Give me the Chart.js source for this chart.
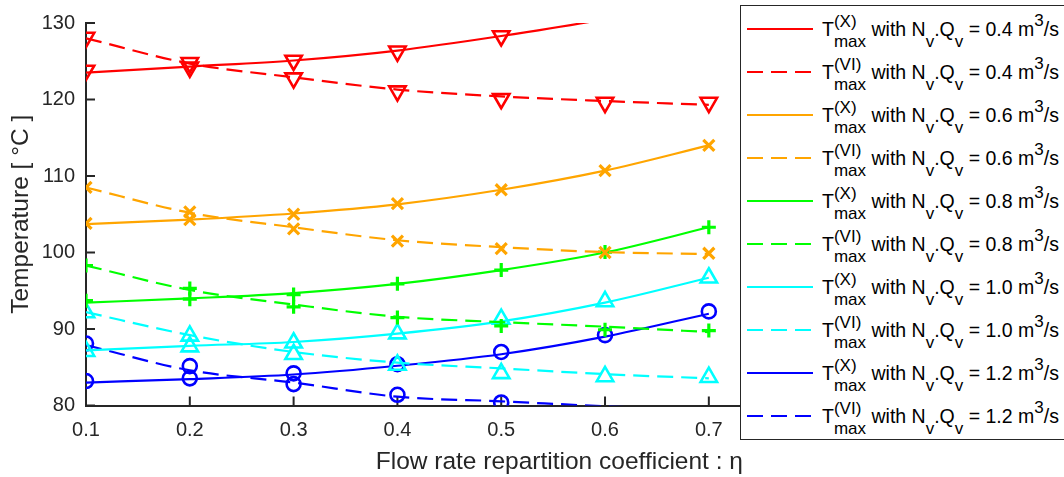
<!DOCTYPE html>
<html>
<head>
<meta charset="utf-8">
<script src="https://cdn.jsdelivr.net/npm/chart.js@4.4.1/dist/chart.umd.min.js"></script>
<style>
  html, body { margin: 0; padding: 0; background: #fff; overflow: hidden; }
  #wrap { position: relative; width: 1064px; height: 477px; overflow: hidden; }
  #legendBox {
    position: absolute; left: 740px; top: 5px; width: 400px; height: 433px;
    border: 1px solid #262626; background: #fff;
    font-family: 'Liberation Sans', Arial, Helvetica, sans-serif; color: #000;
  }
  .row { position: absolute; left: 81px; font-size: 19.5px; line-height: 22px; white-space: nowrap; }
  .stack { display: inline-grid; }
  .stack > span { grid-area: 1 / 1; justify-self: start; font-size: 17px; line-height: 16px; position: relative; }
  .stack .up { top: -9px; }
  .stack .dn { top: 11px; }
  .sb { font-size: 17px; position: relative; top: 11px; }
  .sp { font-size: 17px; position: relative; top: -10px; }
  .swatch { position: absolute; left: 6px; }
</style>
</head>
<body>
<div id="wrap">
  <canvas id="tempChart" width="1064" height="477"></canvas>
  <div id="legendBox"></div>
</div>
<script>
// x positions (flow rate repartition coefficient)
const eta = [0.1, 0.2, 0.3, 0.4, 0.5, 0.6, 0.7];
const flowRates = ['0.4', '0.6', '0.8', '1.0', '1.2'];
const seriesColors = ['#FF0000', '#FFA500', '#00FF00', '#00FFFF', '#0000FF'];

// fitted curves (lines) and computed points (markers)
const fitX04 = [123.5, 124.3, 125.1, 126.4, 128.3, 130.5, 133.2];
const ptsX04 = [123.8, 124.2, 125.1, 126.3, 128.3, null, null];
const fitVI04 = [128.0, 124.7, 122.9, 121.3, 120.4, 119.8, 119.3];
const ptsVI04 = [128.1, 124.8, 122.8, 121.1, 120.1, 119.6, 119.6];

const fitX06 = [103.7, 104.3, 105.1, 106.3, 108.2, 110.7, 114.0];
const ptsX06 = [103.8, 104.3, 105.0, 106.4, 108.2, 110.7, 114.0];
const fitVI06 = [108.5, 105.2, 103.3, 101.6, 100.7, 100.05, 99.8];
const ptsVI06 = [108.5, 105.3, 103.1, 101.5, 100.5, 100.0, 99.9];

const fitX08 = [93.45, 94.0, 94.7, 95.9, 97.7, 100.0, 103.3];
const ptsX08 = [93.7, 93.9, 94.5, 95.9, 97.7, 100.05, 103.3];
const fitVI08 = [98.3, 95.1, 93.2, 91.6, 90.9, 90.3, 89.6];
const ptsVI08 = [98.3, 95.3, 92.9, 91.5, 90.4, 89.9, 89.8];

const fitX10 = [87.2, 87.8, 88.3, 89.4, 91.0, 93.45, 96.7];
const ptsX10 = [87.1, 87.7, 88.2, 89.4, 91.3, 93.6, 96.7];
const fitVI10 = [92.2, 89.2, 87.0, 85.6, 84.85, 84.1, 83.55];
const ptsVI10 = [92.15, 89.1, 86.7, 85.3, 84.2, 83.8, 83.7];

const fitX12 = [83.0, 83.45, 84.05, 85.2, 86.7, 89.0, 92.0];
const ptsX12 = [83.2, 83.55, 84.2, 85.4, 87.0, 89.2, 92.3];
const fitVI12 = [87.9, 84.6, 83.0, 81.15, 80.55, 79.9, 79.4];
const ptsVI12 = [88.1, 85.15, 82.8, 81.4, 80.4, null, null];

const xTicks = [0.1, 0.2, 0.3, 0.4, 0.5, 0.6, 0.7];
const yTicks = [80, 90, 100, 110, 120, 130];

const fits = [[fitX04, fitVI04], [fitX06, fitVI06], [fitX08, fitVI08], [fitX10, fitVI10], [fitX12, fitVI12]];
const points = [[ptsX04, ptsVI04], [ptsX06, ptsVI06], [ptsX08, ptsVI08], [ptsX10, ptsVI10], [ptsX12, ptsVI12]];

// marker look per flow rate
const markers = [
    { style: 'triangle', radius: 9.5, width: 2.6, rotation: 180 },
    { style: 'crossRot', radius: 7.8, width: 3.2, rotation: 0 },
    { style: 'cross', radius: 7, width: 3.2, rotation: 0 },
    { style: 'triangle', radius: 9.5, width: 2.6, rotation: 0 },
    { style: 'circle', radius: 7, width: 2.6, rotation: 0 }
];

const FONT = "'Liberation Sans', Arial, Helvetica, sans-serif";
const AXIS = '#262626';

const toXY = arr => eta.map((x, i) => ({ x, y: arr[i] })).filter(p => p.y !== null);

const datasets = [];
flowRates.forEach((q, k) => {
    [0, 1].forEach(j => {
        datasets.push({
            data: toXY(fits[k][j]),
            borderColor: seriesColors[k],
            borderWidth: 2.2,
            borderDash: j === 1 ? [16, 8] : [],
            pointRadius: 0,
            cubicInterpolationMode: 'monotone',
            fill: false
        });
        datasets.push({
            data: toXY(points[k][j]),
            showLine: false,
            pointStyle: markers[k].style,
            pointRadius: markers[k].radius,
            pointBorderWidth: markers[k].width,
            pointRotation: markers[k].rotation,
            pointBorderColor: seriesColors[k],
            pointBackgroundColor: 'rgba(0,0,0,0)'
        });
    });
});

// MATLAB-like inward tick marks
const innerTicks = {
    id: 'innerTicks',
    beforeDatasetsDraw(chart) {
        const { ctx, chartArea, scales } = chart;
        ctx.save();
        ctx.strokeStyle = AXIS;
        ctx.lineWidth = 2;
        ctx.beginPath();
        xTicks.forEach(v => {
            const px = scales.x.getPixelForValue(v);
            ctx.moveTo(px, chartArea.bottom);
            ctx.lineTo(px, chartArea.bottom - 9);
        });
        yTicks.forEach(v => {
            const py = scales.y.getPixelForValue(v);
            ctx.moveTo(chartArea.left, py);
            ctx.lineTo(chartArea.left + 9, py);
        });
        ctx.stroke();
        ctx.restore();
    }
};

new Chart(document.getElementById('tempChart'), {
    type: 'line',
    data: { datasets },
    options: {
        responsive: false,
        animation: false,
        devicePixelRatio: 1,
        layout: { padding: { top: 22, right: 31.3, left: 0, bottom: 0 } },
        plugins: { legend: { display: false }, tooltip: { enabled: false } },
        scales: {
            x: {
                type: 'linear',
                min: 0.1,
                max: 1.012,
                afterBuildTicks: s => { s.ticks = xTicks.map(v => ({ value: v })); },
                afterFit: s => { s.height = 71.5; },
                grid: { display: false, drawTicks: false },
                border: { display: true, color: AXIS, width: 2 },
                ticks: {
                    padding: 12.5, color: AXIS, maxRotation: 0, autoSkip: false,
                    font: { family: FONT, size: 20 },
                    callback: v => Number(v).toFixed(1)
                },
                title: {
                    display: true,
                    text: 'Flow rate repartition coefficient : η',
                    color: AXIS,
                    font: { family: FONT, size: 24.5 },
                    padding: { top: 0, bottom: 0 }
                }
            },
            y: {
                min: 80,
                max: 130,
                afterBuildTicks: s => { s.ticks = yTicks.map(v => ({ value: v })); },
                afterFit: s => { s.width = 86; },
                grid: { display: false, drawTicks: false },
                border: { display: true, color: AXIS, width: 2 },
                ticks: { padding: 11, color: AXIS, font: { family: FONT, size: 20 } },
                title: {
                    display: true,
                    text: 'Temperature [ °C ]',
                    color: AXIS,
                    font: { family: FONT, size: 24.5 },
                    padding: { top: 6.3, bottom: 0 }
                }
            }
        }
    },
    plugins: [innerTicks]
});

// legend with sub/superscripts as real text
const legendBox = document.getElementById('legendBox');
const kinds = ['X', 'VI'];
let row = 0;
flowRates.forEach((q, k) => {
    kinds.forEach((kind, j) => {
        const cy = 23 + 43 * row;
        const dash = j === 1 ? 'stroke-dasharray="16 8"' : '';
        legendBox.insertAdjacentHTML('beforeend',
            `<svg class="swatch" style="top:${cy - 4}px" width="66" height="8">` +
            `<line x1="0" y1="4" x2="66" y2="4" stroke="${seriesColors[k]}" stroke-width="2" ${dash}/></svg>` +
            `<div class="row" style="top:${12 + 43 * row}px">T<span class="stack"><span class="up">(${kind})</span>` +
            `<span class="dn">max</span></span> with N<span class="sb">v</span>.Q<span class="sb">v</span> = ${q} m<span class="sp">3</span>/s</div>`);
        row++;
    });
});
</script>
</body>
</html>
